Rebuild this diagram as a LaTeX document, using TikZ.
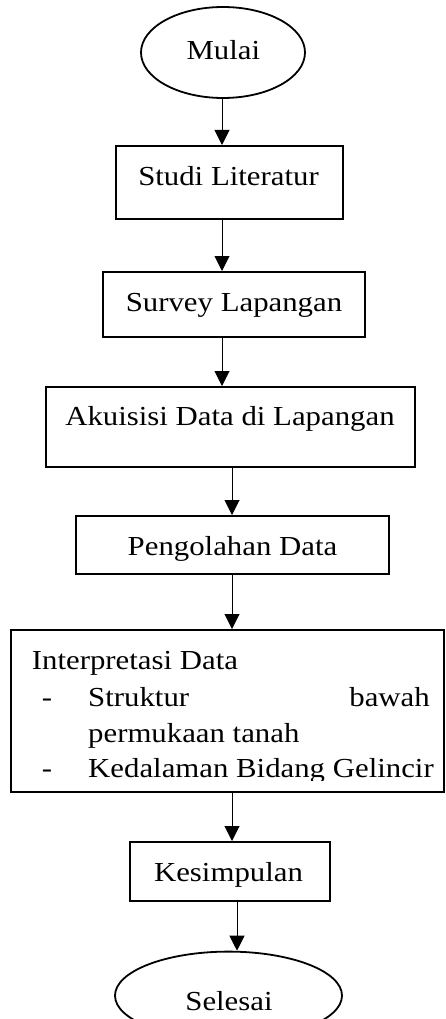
\documentclass[tikz,border=0pt]{standalone}
\usepackage{fontspec}
\setmainfont[FakeStretch=1.12]{Liberation Serif}
\usetikzlibrary{shapes.geometric,arrows.meta}
\begin{document}
\begin{tikzpicture}[x=1pt,y=-1pt,
  every node/.style={inner sep=0pt},
  txt/.style={font=\fontsize{27.5}{33}\selectfont, anchor=base},
  boxnode/.style={draw, line width=2pt, rectangle},
  ovalnode/.style={draw, line width=1.8pt, ellipse},
  arr/.style={line width=1pt, -{Triangle[length=15pt,width=15pt]}}]
\clip (0,0) rectangle (445,1019);
% shapes
\node[ovalnode, minimum width=164, minimum height=91] (mulai) at (223,52.5) {};
\node[boxnode, minimum width=227, minimum height=73] (studi) at (229.5,182.5) {};
\node[boxnode, minimum width=262, minimum height=65] (survey) at (234,304.5) {};
\node[boxnode, minimum width=369, minimum height=80] (akuisisi) at (230.5,427) {};
\node[boxnode, minimum width=313, minimum height=58] (olah) at (232.5,545) {};
\node[boxnode, minimum width=433, minimum height=162] (interp) at (227,711) {};
\node[boxnode, minimum width=200, minimum height=59] (simpul) at (230,871.5) {};
\node[ovalnode, minimum width=227, minimum height=88] (selesai) at (228.5,995.6) {};
% labels
\node[txt] (tmulai) at (223.4,60) {Mulai};
\node[txt] (tstudi) at (228.5,185.5) {Studi Literatur};
\node[txt] (tsurvey) at (234,311) {Survey Lapangan};
\node[txt] (takuisisi) at (230,425.5) {Akuisisi Data di Lapangan};
\node[txt] (tolah) at (232.5,555) {Pengolahan Data};
\node[txt] (tsimpul) at (228.5,881.5) {Kesimpulan};
\node[txt] (tselesai) at (229,1010) {Selesai};
\begin{scope}
\clip (10,630) rectangle (444,780);
\node[txt, anchor=base west] (i0) at (31.7,669) {Interpretasi Data};
\node[txt] (d1) at (47,706) {-};
\node[txt, anchor=base west] (i1) at (88,706) {Struktur};
\node[txt, anchor=base east] (i1b) at (430,706) {bawah};
\node[txt, anchor=base west] (i2) at (88,742) {permukaan tanah};
\node[txt] (d2) at (47,777) {-};
\node[txt, anchor=base west] (i3) at (88,777) {Kedalaman Bidang Gelincir};
\end{scope}
% connectors
\coordinate (ca) at (222,0);
\coordinate (cb) at (232,0);
\coordinate (cc) at (237,0);
\draw[arr] (mulai.south -| ca) -- (studi.north -| ca);
\draw[arr] (studi.south -| ca) -- (survey.north -| ca);
\draw[arr] (survey.south -| ca) -- (akuisisi.north -| ca);
\draw[arr] (akuisisi.south -| cb) -- (olah.north -| cb);
\draw[arr] (olah.south -| cb) -- (interp.north -| cb);
\draw[arr] (interp.south -| cb) -- (simpul.north -| cb);
\draw[arr] (simpul.south -| cc) -- (selesai.north -| cc);
\end{tikzpicture}
\end{document}
